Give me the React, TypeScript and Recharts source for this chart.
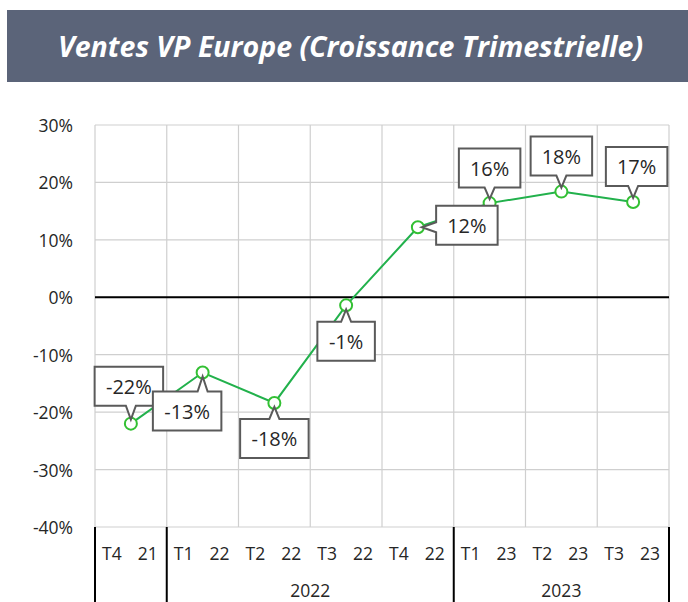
import React from 'react';
import { LineChart, Line, XAxis, YAxis, CartesianGrid, ReferenceLine, LabelList } from 'recharts';

// ---- data ----
const title = 'Ventes VP Europe (Croissance Trimestrielle)';
const quarters = ['T4', 'T1', 'T2', 'T3', 'T4', 'T1', 'T2', 'T3'];
const yearsShort = ['21', '22', '22', '22', '22', '23', '23', '23'];
const growth = [-22.0, -13.1, -18.4, -1.4, 12.2, 16.4, 18.4, 16.6];
const yearGroupLabels = ['', '2022', '2023'];
const yearGroupStarts = [0, 1, 5];
const yearGroupCounts = [1, 4, 3];
const yTicks = [-40, -30, -20, -10, 0, 10, 20, 30];

const data = quarters.map((q, i) => ({ cat: `${q} ${yearsShort[i]}`, q, yr: yearsShort[i], value: growth[i] }));

// ---- layout ----
const W = 688;
const H = 602;
const PLOT_LEFT = 95;
const PLOT_RIGHT = 669;
const PLOT_TOP = 125;
const PLOT_BOTTOM = 527;
const FONT = '"Open Sans", "Noto Sans", sans-serif';
const TEXT = '#262626';
const BW = (PLOT_RIGHT - PLOT_LEFT) / quarters.length;

// callout box centre offsets relative to each point
const labelOffsets: [number, number][] = [
  [-2, -37.5], [-15.5, 38.5], [0, 35.5], [0, 36], [49, -2], [0, -35], [0, -35.5], [3.5, -35.5],
];

const charW = (c: string) => (c === '-' ? 7 : c === '%' ? 15.5 : 11);

function calloutPath(cx: number, cy: number, w: number, h: number, px: number, py: number) {
  const x0 = cx - w / 2, x1 = cx + w / 2, y0 = cy - h / 2, y1 = cy + h / 2;
  const hb = 5;
  const clamp = (v: number, a: number, b: number) => Math.max(a, Math.min(b, v));
  if (py > y1) {
    const bx = clamp(px, x0 + 8, x1 - 8);
    return `M${x0},${y0} L${x1},${y0} L${x1},${y1} L${bx + hb},${y1} L${px},${py - 4} L${bx - hb},${y1} L${x0},${y1} Z`;
  }
  if (py < y0) {
    const bx = clamp(px, x0 + 8, x1 - 8);
    return `M${x0},${y0} L${bx - hb},${y0} L${px},${py + 4} L${bx + hb},${y0} L${x1},${y0} L${x1},${y1} L${x0},${y1} Z`;
  }
  if (px < x0) {
    const by = clamp(py, y0 + 8, y1 - 8);
    return `M${x0},${y0} L${x1},${y0} L${x1},${y1} L${x0},${y1} L${x0},${by + hb} L${px + 4},${py} L${x0},${by - hb} Z`;
  }
  const by = clamp(py, y0 + 8, y1 - 8);
  return `M${x0},${y0} L${x1},${y0} L${x1},${by - hb} L${px - 4},${py} L${x1},${by + hb} L${x1},${y1} L${x0},${y1} Z`;
}

const Callout = (props: any) => {
  const { x, y, value, index } = props;
  if (x == null || y == null) return null;
  const txt = `${Math.round(value)}%`;
  const w = txt.split('').reduce((s, c) => s + charW(c), 0) + 24;
  const h = 39;
  const [dx, dy] = labelOffsets[index] || [0, -36];
  const cx = x + dx;
  const cy = y + dy;
  return (
    <g>
      <path d={calloutPath(cx, cy, w, h, x, y)} fill="#fff" stroke="#5a5a5a" strokeWidth={2} strokeLinejoin="miter" />
      <text x={cx} y={cy} textAnchor="middle" dominantBaseline="central" fontFamily={FONT} fontSize={20} fill={TEXT}>
        {txt}
      </text>
    </g>
  );
};

const XTick = (props: any) => {
  const { x, payload } = props;
  const i = payload.index;
  const gi = yearGroupStarts.indexOf(i);
  const left = x - BW / 2;
  return (
    <g>
      <text x={x - 19} y={553} textAnchor="middle" dominantBaseline="central" fontFamily={FONT} fontSize={17.5} fill={TEXT}>
        {quarters[i]}
      </text>
      <text x={x + 17} y={553} textAnchor="middle" dominantBaseline="central" fontFamily={FONT} fontSize={17.5} fill={TEXT}>
        {yearsShort[i]}
      </text>
      {gi >= 0 && (
        <g>
          <line x1={left} x2={left} y1={PLOT_BOTTOM} y2={H} stroke="#000" strokeWidth={2} />
          {yearGroupLabels[gi] && (
            <text x={left + (yearGroupCounts[gi] * BW) / 2} y={590} textAnchor="middle" dominantBaseline="central" fontFamily={FONT} fontSize={17.5} fill={TEXT}>
              {yearGroupLabels[gi]}
            </text>
          )}
        </g>
      )}
      {i === quarters.length - 1 && (
        <line x1={x + BW / 2} x2={x + BW / 2} y1={PLOT_BOTTOM} y2={H} stroke="#000" strokeWidth={2} />
      )}
    </g>
  );
};

const YTick = (props: any) => {
  const { y, payload } = props;
  return (
    <text x={73} y={y} textAnchor="end" dominantBaseline="central" fontFamily={FONT} fontSize={17.5} fill={TEXT}>
      {`${payload.value}%`}
    </text>
  );
};

export default function App() {
  return (
    <div style={{ position: 'absolute', left: 0, top: 0, width: W, height: H, background: '#fff', overflow: 'hidden' }}>
      <div
        style={{
          position: 'absolute', left: 7, top: 10, width: W - 7, height: 72, background: '#5b6479',
          color: '#fff', fontFamily: FONT, fontWeight: 700, fontStyle: 'italic', fontSize: 28.5,
          display: 'flex', alignItems: 'center', justifyContent: 'center', paddingLeft: 6, boxSizing: 'border-box',
          whiteSpace: 'nowrap',
        }}
      >
        {title}
      </div>
      <div style={{ position: 'absolute', left: 0, top: 0 }}>
        <LineChart
          width={W}
          height={H}
          data={data}
          margin={{ top: PLOT_TOP, right: W - PLOT_RIGHT, bottom: 0, left: PLOT_LEFT - 60 }}
        >
          <CartesianGrid
            stroke="#cfcfcf"
            strokeWidth={1.2}
            verticalCoordinatesGenerator={(p: any) => {
              const off = p.offset;
              return quarters.map((_, i) => off.left + (i * off.width) / quarters.length).concat([off.left + off.width]);
            }}
          />
          <XAxis dataKey="cat" scale="band" interval={0} axisLine={false} tickLine={false} height={H - PLOT_BOTTOM} tick={<XTick />} />
          <YAxis
            domain={[-40, 30]}
            ticks={yTicks}
            width={60}
            axisLine={false}
            tickLine={false}
            tick={<YTick />}
            allowDataOverflow
          />
          <ReferenceLine y={0} stroke="#000" strokeWidth={2} />
          <Line
            dataKey="value"
            stroke="#22b14c"
            strokeWidth={2}
            isAnimationActive={false}
            dot={{ r: 6, fill: '#fff', stroke: '#33c033', strokeWidth: 2 }}
            activeDot={false}
          >
            <LabelList dataKey="value" content={<Callout />} />
          </Line>
        </LineChart>
      </div>
    </div>
  );
}
